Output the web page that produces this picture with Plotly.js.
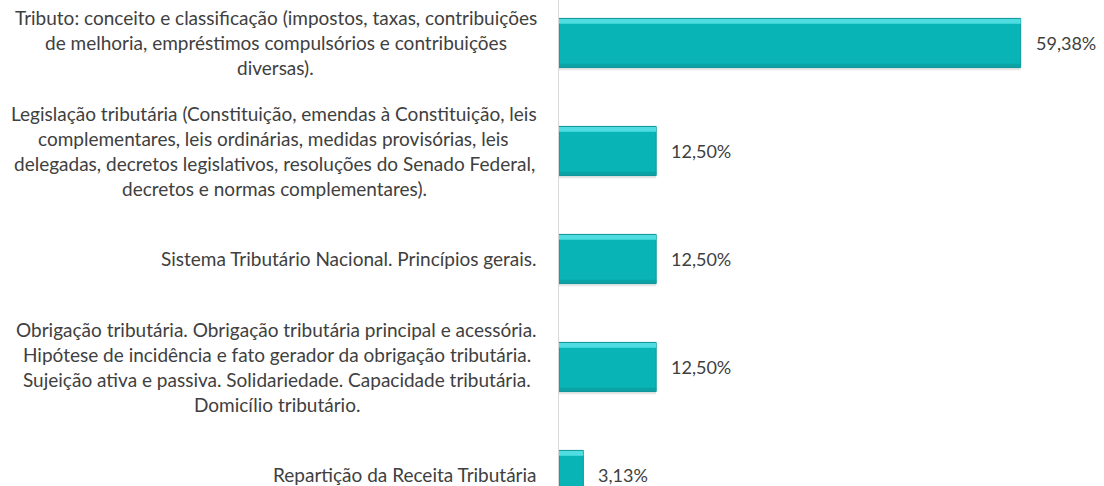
<!DOCTYPE html>
<html>
<head>
<meta charset="utf-8">
<script src="https://cdn.plot.ly/plotly-3.0.1.min.js"></script>
<style>
html,body{margin:0;padding:0;background:#ffffff;}
#chart{width:1104px;height:486px;}
</style>
</head>
<body>
<div id="chart"></div>
<script>
// ---- data ----
const categories = [
  "Tributo: conceito e classificação (impostos, taxas, contribuições<br>de melhoria, empréstimos compulsórios e contribuições<br>diversas).",
  "Legislação tributária (Constituição, emendas à Constituição, leis<br>complementares, leis ordinárias, medidas provisórias, leis<br>delegadas, decretos legislativos, resoluções do Senado Federal,<br>decretos e normas complementares).",
  "Sistema Tributário Nacional. Princípios gerais.",
  "Obrigação tributária. Obrigação tributária principal e acessória.<br>Hipótese de incidência e fato gerador da obrigação tributária.<br>Sujeição ativa e passiva. Solidariedade. Capacidade tributária.<br>Domicílio tributário.",
  "Repartição da Receita Tributária"
];
const values = [59.38, 12.50, 12.50, 12.50, 3.13];
const valueLabels = ["59,38%", "12,50%", "12,50%", "12,50%", "3,13%"];

// ---- style ----
const FONT = "Lato, 'Open Sans', sans-serif";
const LABEL_SIZE = 19;
const VALUE_SIZE = 18;
const LINE_STEP = 25;
const LABEL_GAP = 20;
const TEXT_COLOR = "#404040";
const BAR_W = 0.455;

const canvas = document.createElement("canvas");
const ctx = canvas.getContext("2d");
ctx.font = LABEL_SIZE + "px Lato";
function measure(t){ return ctx.measureText(t).width; }

const annotations = [];
categories.forEach(function(cat){
  const lines = cat.split("<br>");
  const widths = lines.map(measure);
  const maxW = Math.max.apply(null, widths);
  const n = lines.length;
  lines.forEach(function(line, j){
    annotations.push({
      xref: "paper", x: 0, yref: "y", y: cat,
      xanchor: "right", yanchor: "middle",
      xshift: -LABEL_GAP - (maxW - widths[j]) / 2,
      yshift: ((n - 1) / 2 - j) * LINE_STEP,
      text: line, showarrow: false, align: "right",
      font: {family: FONT, size: LABEL_SIZE, color: TEXT_COLOR}
    });
  });
});
values.forEach(function(v, i){
  annotations.push({
    xref: "x", x: v, yref: "y", y: categories[i],
    xanchor: "left", yanchor: "middle", xshift: 13,
    text: valueLabels[i], showarrow: false,
    font: {family: FONT, size: VALUE_SIZE, color: TEXT_COLOR}
  });
});

const traces = [
  { // shadow
    type: "bar", orientation: "h", x: values, y: categories,
    width: BAR_W, offset: -BAR_W / 2 + 0.025,
    marker: {color: "rgba(0,0,0,0.10)", line: {width: 0}},
    hoverinfo: "skip", showlegend: false
  },
  { // main face
    type: "bar", orientation: "h", x: values, y: categories,
    width: BAR_W, offset: -BAR_W / 2,
    marker: {color: "#09b4b7", line: {color: "#0c9497", width: 1}},
    showlegend: false
  },
  { // top highlight
    type: "bar", orientation: "h", x: values, y: categories,
    width: 0.045, offset: -BAR_W / 2 + 0.005,
    marker: {color: "#4fdde1", line: {width: 0}},
    hoverinfo: "skip", showlegend: false
  },
  { // bottom darker edge
    type: "bar", orientation: "h", x: values, y: categories,
    width: 0.03, offset: BAR_W / 2 - 0.035,
    marker: {color: "#0aa2a5", line: {width: 0}},
    hoverinfo: "skip", showlegend: false
  }
];

const layout = {
  width: 1104, height: 486,
  margin: {l: 559, r: 0, t: 0, b: 0},
  paper_bgcolor: "#ffffff", plot_bgcolor: "#ffffff",
  barmode: "overlay",
  showlegend: false,
  xaxis: {range: [0, 70.1], showgrid: false, zeroline: false, showline: false,
          showticklabels: false, ticks: ""},
  yaxis: {type: "category", categoryarray: categories, categoryorder: "array",
          range: [4.102, -0.398], showgrid: false, zeroline: false,
          showline: true, linecolor: "#d9d9d9", linewidth: 1,
          showticklabels: false, ticks: ""},
  annotations: annotations,
  font: {family: FONT, color: TEXT_COLOR}
};

Plotly.newPlot("chart", traces, layout, {displayModeBar: false, staticPlot: true});
</script>
</body>
</html>
